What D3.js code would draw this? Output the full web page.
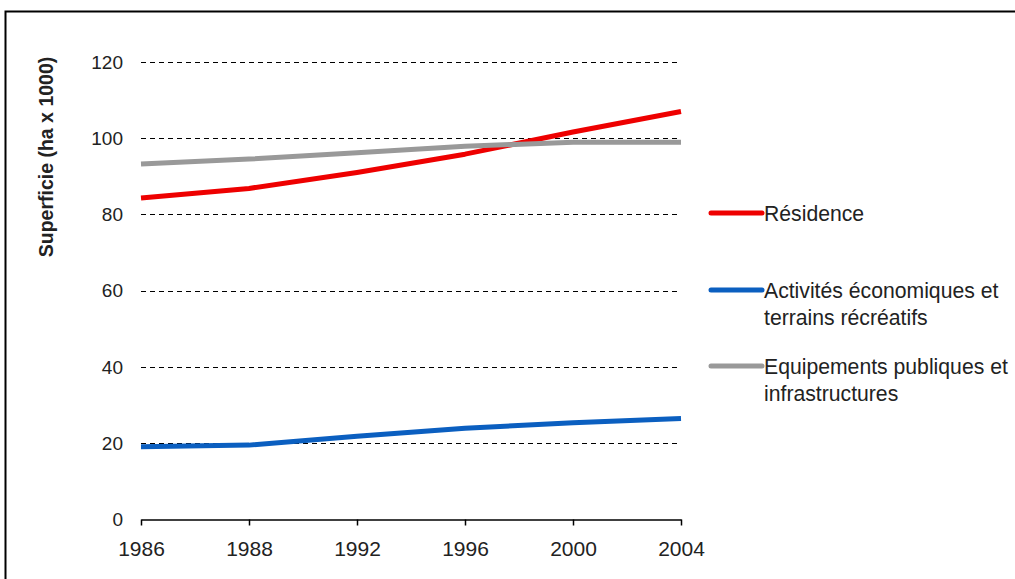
<!DOCTYPE html>
<html>
<head>
<meta charset="utf-8">
<script src="https://cdn.jsdelivr.net/npm/d3@7"></script>
<style>
  html, body { margin: 0; padding: 0; background: #fff; }
  svg { display: block; }
  text { font-family: "Liberation Sans", Arial, sans-serif; }
</style>
</head>
<body>
<svg id="chart" width="1015" height="579"></svg>
<script>
// Surface used by land type, in thousands of hectares
const years = ["1986", "1988", "1992", "1996", "2000", "2004"];
const residence = [84.3, 86.8, 91.0, 95.8, 101.6, 107.0];
const activites = [19.0, 19.4, 21.7, 23.8, 25.3, 26.4];
const equipements = [93.2, 94.5, 96.2, 97.9, 98.9, 98.9];
const yTicks = [0, 20, 40, 60, 80, 100, 120];

const seriesNames = [["Résidence"], ["Activités économiques et", "terrains récréatifs"], ["Equipements publiques et", "infrastructures"]];
const seriesColors = ["#ee0000", "#0b5fc0", "#999999"];

const series = [
  { label: seriesNames[0], values: residence, color: seriesColors[0] },
  { label: seriesNames[1], values: activites, color: seriesColors[1] },
  { label: seriesNames[2], values: equipements, color: seriesColors[2] }
];

const svg = d3.select("#chart");

// outer frame (top and left edges visible)
svg.append("path")
  .attr("d", "M5.5,580 V11.5 H1016")
  .attr("fill", "none")
  .attr("stroke", "#000")
  .attr("stroke-width", 2);

const x = d3.scalePoint().domain(years).range([141, 681]);
const y = d3.scaleLinear().domain([0, 120]).range([519, 62]);

// dashed horizontal gridlines
svg.append("g")
  .selectAll("line")
  .data(yTicks.filter(d => d > 0))
  .join("line")
  .attr("x1", x.range()[0])
  .attr("x2", x.range()[1])
  .attr("y1", d => Math.round(y(d)) + 0.5)
  .attr("y2", d => Math.round(y(d)) + 0.5)
  .attr("stroke", "#000")
  .attr("stroke-width", 1)
  .attr("stroke-dasharray", "5,4");

// y tick labels
svg.append("g")
  .selectAll("text")
  .data(yTicks)
  .join("text")
  .attr("x", 123)
  .attr("y", d => y(d))
  .attr("dy", "0.36em")
  .attr("text-anchor", "end")
  .attr("font-size", 19)
  .attr("fill", "#222")
  .text(d => d);

// x axis
const xAxis = d3.axisBottom(x).tickSizeInner(6).tickSizeOuter(0).tickPadding(16);
const gx = svg.append("g")
  .attr("transform", `translate(0,${Math.round(y(0)) + 0.5})`)
  .call(xAxis);
gx.select(".domain").attr("stroke", "#000").attr("stroke-width", 1.5);
gx.selectAll(".tick line").attr("stroke", "#000").attr("stroke-width", 1.5);
gx.selectAll(".tick text")
  .attr("font-size", 21)
  .attr("fill", "#222")
  .attr("font-family", "Liberation Sans, Arial, sans-serif");

// y axis title
svg.append("text")
  .attr("transform", "translate(53,157) rotate(-90)")
  .attr("text-anchor", "middle")
  .attr("font-size", 19.5)
  .attr("font-weight", "bold")
  .attr("fill", "#222")
  .text("Superficie (ha x 1000)");

// series lines
const line = d3.line()
  .x((d, i) => x(years[i]))
  .y(d => y(d));

svg.append("g")
  .selectAll("path")
  .data(series)
  .join("path")
  .attr("d", d => line(d.values))
  .attr("fill", "none")
  .attr("stroke", d => d.color)
  .attr("stroke-width", 5)
  .attr("stroke-linejoin", "round");

// legend
const legendY = [213, 290, 366];
const lg = svg.append("g");
series.forEach((s, i) => {
  const g = lg.append("g").attr("transform", `translate(0,${legendY[i]})`);
  g.append("line")
    .attr("x1", 711).attr("x2", 762)
    .attr("y1", 0).attr("y2", 0)
    .attr("stroke", s.color)
    .attr("stroke-width", 5)
    .attr("stroke-linecap", "round");
  const t = g.append("text")
    .attr("x", 764)
    .attr("y", 0)
    .attr("font-size", 21.2)
    .attr("fill", "#222");
  s.label.forEach((ln, j) => {
    t.append("tspan")
      .attr("x", 764)
      .attr("dy", j === 0 ? "0.36em" : 27)
      .text(ln);
  });
});
</script>
</body>
</html>
